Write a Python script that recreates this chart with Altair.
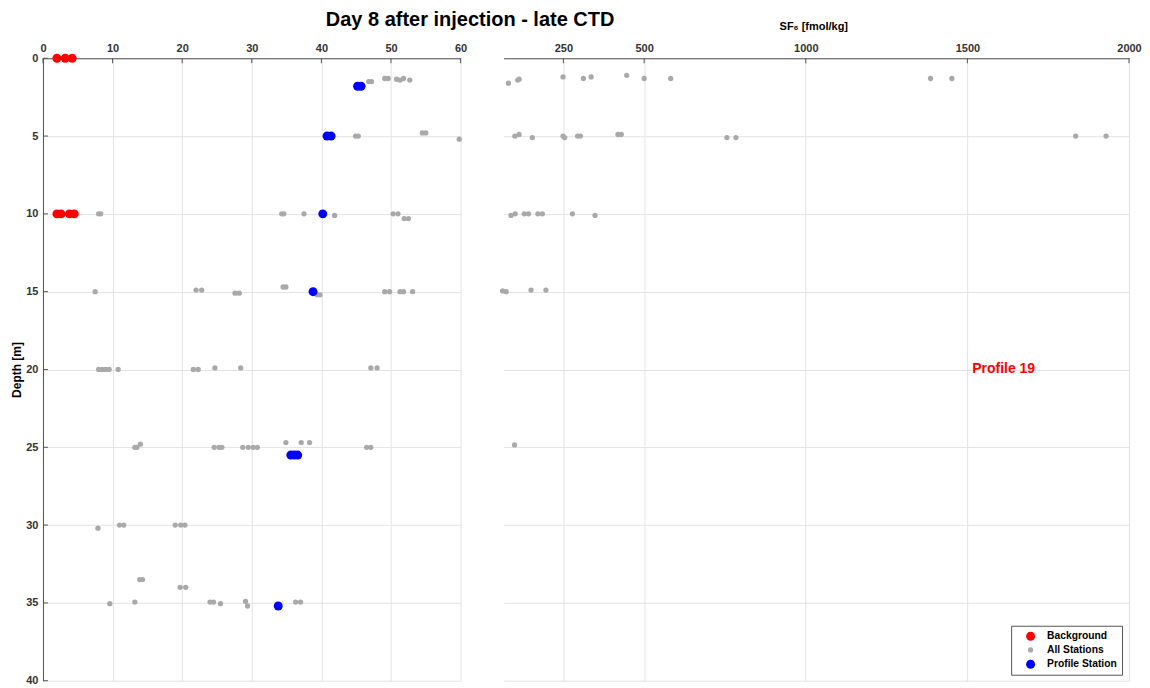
import altair as alt
import pandas as pd

# ---------------- data ----------------
series_names = ["Background", "All Stations", "Profile Station"]

bg_x = [2.0, 3.2, 4.2, 2.0, 2.6, 3.8, 4.5]
bg_depth = [0, 0, 0, 10, 10, 10, 10]

all_x = [46.8, 47.2, 49.1, 49.6, 50.8, 51.3, 51.8, 52.7,
         44.9, 45.3, 54.5, 55.0, 59.8,
         8.0, 8.3, 34.3, 34.6, 37.5, 41.9, 50.3, 51.0, 51.9, 52.5,
         7.5, 22.0, 22.8, 27.6, 28.2, 34.5, 34.9, 39.4, 39.8, 49.1, 49.8, 51.3, 51.8, 53.1,
         8.0, 8.5, 9.0, 9.5, 10.8, 21.6, 22.3, 24.7, 28.4, 47.1, 48.0,
         13.2, 13.5, 14.0, 24.6, 25.3, 25.7, 28.7, 29.5, 30.2, 30.8, 34.9, 37.1, 38.3, 46.5, 47.1,
         7.9, 11.0, 11.6, 19.0, 19.8, 20.4,
         13.9, 14.3, 19.7, 20.5,
         9.6, 13.2, 24.0, 24.5, 25.5, 29.1, 29.4, 36.3, 37.0]
all_depth = [1.5, 1.5, 1.3, 1.3, 1.35, 1.4, 1.3, 1.4,
             5.0, 5.0, 4.8, 4.8, 5.2,
             10, 10, 10, 10, 10, 10.1, 10, 10, 10.3, 10.3,
             15, 14.9, 14.9, 15.1, 15.1, 14.7, 14.7, 15.2, 15.2, 15, 15, 15, 15, 15,
             20, 20, 20, 20, 20, 20, 20, 19.9, 19.9, 19.9, 19.9,
             25, 25, 24.8, 25, 25, 25, 25, 25, 25, 25, 24.7, 24.7, 24.7, 25, 25,
             30.2, 30, 30, 30, 30, 30,
             33.5, 33.5, 34, 34,
             35.05, 34.95, 34.95, 34.95, 35.05, 34.9, 35.2, 34.95, 34.95]

prof_x = [45.2, 45.7, 40.8, 41.4, 40.2, 38.8, 35.6, 36.1, 36.6, 33.8]
prof_depth = [1.8, 1.8, 5, 5, 10, 15, 25.5, 25.5, 25.5, 35.2]

sf6_x = [80, 109, 113, 249, 312, 336, 446, 500, 582, 1386, 1452,
         100, 113, 154, 249, 254, 294, 303, 419, 429, 756, 784, 1835, 1929,
         88, 101, 129, 142, 171, 185, 278, 348,
         62, 73, 150, 196,
         99]
sf6_depth = [1.6, 1.4, 1.35, 1.2, 1.3, 1.2, 1.1, 1.3, 1.3, 1.3, 1.3,
             5.0, 4.9, 5.1, 5.0, 5.1, 5.0, 5.0, 4.9, 4.9, 5.1, 5.1, 5.0, 5.0,
             10.1, 10.0, 10, 10, 10, 10, 10, 10.1,
             14.95, 15.0, 14.9, 14.9,
             24.85]

left_ticks = [0, 10, 20, 30, 40, 50, 60]
sf6_ticks = [250, 500, 1000, 1500, 2000]
depth_ticks = [0, 5, 10, 15, 20, 25, 30, 35, 40]

annot_x = [1515]
annot_depth = [20]
annot_text = ["Profile 19"]

# ---------------- tables ----------------
df_left = pd.concat([
    pd.DataFrame({"value": all_x, "depth": all_depth, "series": "All Stations"}),
    pd.DataFrame({"value": bg_x, "depth": bg_depth, "series": "Background"}),
    pd.DataFrame({"value": prof_x, "depth": prof_depth, "series": "Profile Station"}),
], ignore_index=True)
df_right = pd.DataFrame({"value": sf6_x, "depth": sf6_depth, "series": "All Stations"})
df_annot = pd.DataFrame({"value": annot_x, "depth": annot_depth, "label": annot_text})
df_lt = pd.DataFrame({"t": left_ticks})
df_rt = pd.DataFrame({"t": sf6_ticks})
df_dt = pd.DataFrame({"t": depth_ticks})

FONT = "Liberation Sans"
color_scale = alt.Scale(domain=series_names, range=["#ff0000", "#a9a9a9", "#0000ff"])
size_scale = alt.Scale(type="ordinal", domain=series_names, range=[80, 28, 80])
legend = alt.Legend(
    title=None, orient="none", legendX=969, legendY=568,
    fillColor="white", strokeColor="#555555", padding=5, rowPadding=3,
    labelFont=FONT, labelFontWeight="bold", labelFontSize=10.3, labelColor="black",
    symbolType="circle", labelOffset=11, symbolOffset=9,
)

W_L, W_R, H = 418, 626, 623
xs_left = alt.Scale(domain=[0, 60], nice=False, zero=False)
xs_right = alt.Scale(domain=[65, 2000], nice=False, zero=False)
ys = alt.Scale(domain=[0, 40], reverse=True, nice=False, zero=False)

left_pts = alt.Chart(df_left).mark_circle(opacity=1).encode(
    x=alt.X("value:Q", scale=xs_left,
            axis=alt.Axis(orient="top", values=left_ticks, format="d",
                          title="Day 8 after injection - late CTD",
                          titleFontSize=20, titleColor="black",
                          titleX=427, titleY=-33, titleAlign="center",
                          titleBaseline="alphabetic")),
    y=alt.Y("depth:Q", scale=ys,
            axis=alt.Axis(values=depth_ticks, title="Depth [m]", titleFontSize=12,
                          titleColor="black", titlePadding=2)),
    color=alt.Color("series:N", scale=color_scale, legend=legend),
    size=alt.Size("series:N", scale=size_scale, legend=legend),
)
left_xt = alt.Chart(df_lt).mark_rule(color="#555555").encode(
    x=alt.X("t:Q", scale=xs_left), y=alt.value(0), y2=alt.value(5))
left_yt = alt.Chart(df_dt).mark_rule(color="#555555").encode(
    y=alt.Y("t:Q", scale=ys), x=alt.value(0), x2=alt.value(5))
left = alt.layer(left_pts, left_xt, left_yt).properties(width=W_L, height=H)

right_pts = alt.Chart(df_right).mark_circle(opacity=1).encode(
    x=alt.X("value:Q", scale=xs_right,
            axis=alt.Axis(orient="top", values=sf6_ticks, format="d",
                          title="SF₆ [fmol/kg]", titleFontSize=11, titleColor="black",
                          titleY=-29, titleX=310, titleBaseline="alphabetic")),
    y=alt.Y("depth:Q", scale=ys,
            axis=alt.Axis(values=depth_ticks, labels=False, ticks=False, domain=False,
                          title=None)),
    color=alt.Color("series:N", scale=color_scale, legend=legend),
    size=alt.Size("series:N", scale=size_scale, legend=legend),
)
right_xt = alt.Chart(df_rt).mark_rule(color="#555555").encode(
    x=alt.X("t:Q", scale=xs_right), y=alt.value(0), y2=alt.value(5))
right_txt = alt.Chart(df_annot).mark_text(
    align="left", baseline="middle", color="#ff0000", font=FONT,
    fontWeight="bold", fontSize=14).encode(
    x=alt.X("value:Q", scale=xs_right), y=alt.Y("depth:Q", scale=ys), text="label:N")
right = alt.layer(right_pts, right_xt, right_txt).properties(width=W_R, height=H)

chart = alt.hconcat(left, right, spacing=43, bounds="flush").properties(
    padding={"left": 2, "top": 1, "right": 0, "bottom": 0}
).configure_view(stroke=None).configure_axis(
    grid=True, gridColor="#e3e3e3", gridWidth=1,
    domainColor="#505050", domainWidth=1, ticks=False, labelFlush=False,
    labelFont=FONT, labelFontWeight="bold", labelFontSize=11, labelColor="#333333",
    labelPadding=5, titleFont=FONT, titleFontWeight="bold",
)

chart.save("out.html", embed_options={"renderer": "svg", "actions": False})
